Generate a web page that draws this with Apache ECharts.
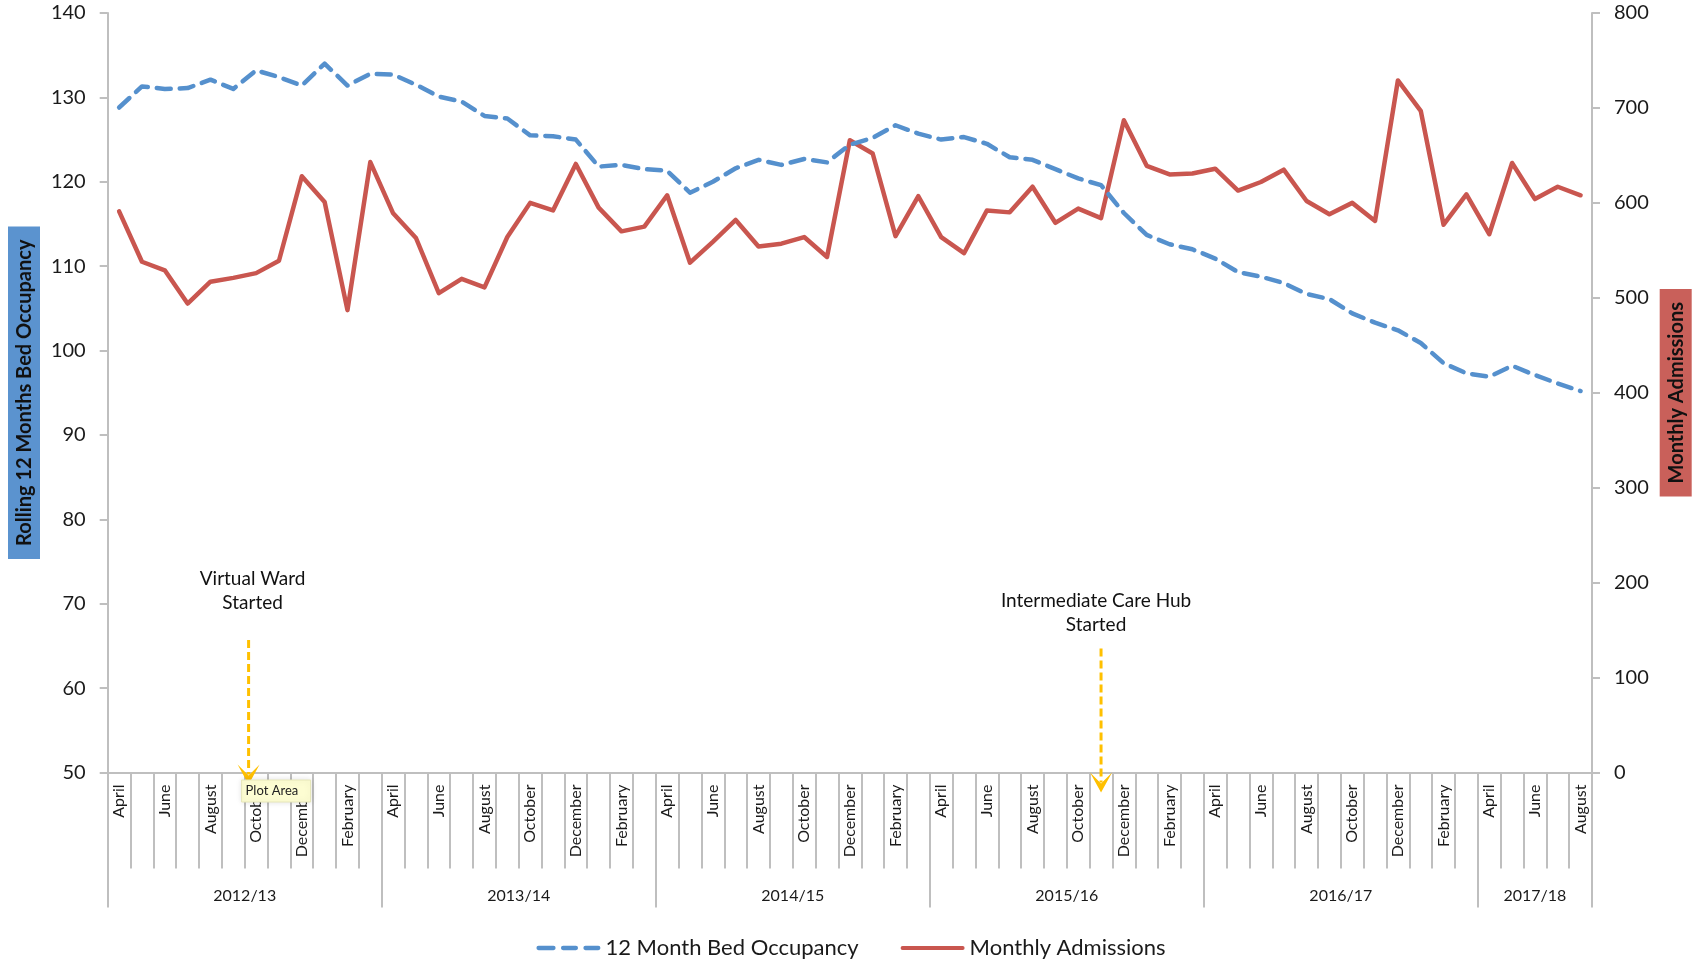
<!DOCTYPE html>
<html>
<head>
<meta charset="utf-8">
<script src="https://cdn.jsdelivr.net/npm/echarts@6/dist/echarts.min.js"></script>
<style>html,body{margin:0;padding:0;background:#fff}#c{width:1702px;height:960px}</style>
</head>
<body>
<div id="c"></div>
<script>
// ---- data ----
const monthNames = ['April','May','June','July','August','September','October','November','December','January','February','March'];
const monthCount = 65; // April 2012 .. August 2017
const categories = [];
for (let i = 0; i < monthCount; i++) categories.push(monthNames[i % 12]);

const yearLabels = ['2012/13','2013/14','2014/15','2015/16','2016/17','2017/18'];
const yearBounds = [0, 12, 24, 36, 48, 60, 65];

const bedOccupancy = [
  128.8,131.3,131.0,131.1,132.1,131.0,133.2,132.4,131.4,134.0,
  131.4,132.8,132.7,131.5,130.1,129.5,127.8,127.5,125.5,125.4,
  125.0,121.8,122.0,121.5,121.3,118.7,120.0,121.6,122.6,122.0,
  122.7,122.3,124.4,125.2,126.7,125.7,125.0,125.3,124.5,122.9,
  122.6,121.5,120.4,119.6,116.3,113.7,112.6,112.0,110.9,109.3,
  108.75,108.0,106.7,106.1,104.4,103.3,102.4,100.9,98.5,97.3,
  96.9,98.2,97.1,96.1,95.2
];
const monthlyAdmissions = [
  591,538,529,494,517,521,526,539,628,601,
  487,643,589,563,505,520,511,564,600,592,
  641,595,570,575,608,537,559,582,554,557,
  564,543,666,652,565,607,564,547,592,590,
  617,579,594,584,687,639,630,631,636,613,
  622,635,602,588,600,581,729,697,577,609,
  567,642,604,617,608
];
const leftTicks = {min: 50, max: 140, interval: 10};
const rightTicks = {min: 0, max: 800, interval: 100};

const annotations = [
  {text: 'Virtual Ward\nStarted', index: 6, shift: -0.33, arrowTop: 65.7, textTop: 74.4},
  {text: 'Intermediate Care Hub\nStarted', index: 43, shift: 0, arrowTop: 64.7, textTop: 71.8}
];

// ---- chart ----
const FONT = 'Lato';
const AXIS = '#bfbfbf';
const TXT = '#1a1a1a';
const BLUE = '#5590cd';
const RED = '#c9564f';

const yearCenters = yearLabels.map((_, i) => (yearBounds[i] + yearBounds[i + 1]) / 2);

const dashedIcon = 'path://M2,0h14a2,2 0 0 1 0,4h-14a2,2 0 0 1 0,-4z M25,0h12a2,2 0 0 1 0,4h-12a2,2 0 0 1 0,-4z M46,0h12a2,2 0 0 1 0,4h-12a2,2 0 0 1 0,-4z';
const solidIcon = 'path://M2,0h62a2,2 0 0 1 0,4h-62a2,2 0 0 1 0,-4z';

const chart = echarts.init(document.getElementById('c'));
const option = {
  animation: false,
  textStyle: {fontFamily: FONT},
  grid: {left: 105, right: 110, top: 13, bottom: 187.5},
  legend: {
    left: 'center', top: 932,
    itemWidth: 64, itemHeight: 5, itemGap: 42,
    textStyle: {fontFamily: FONT, fontSize: 22, color: TXT},
    data: [
      {name: '12 Month Bed Occupancy', icon: dashedIcon, itemStyle: {color: BLUE}},
      {name: 'Monthly Admissions', icon: solidIcon, itemStyle: {color: RED}}
    ]
  },
  xAxis: [
    {
      type: 'category', data: categories, boundaryGap: true, position: 'bottom',
      axisLine: {lineStyle: {color: AXIS, width: 2}},
      axisTick: {show: true, interval: 0, length: 96, lineStyle: {color: AXIS, width: 2}},
      axisLabel: {interval: 1, rotate: 90, margin: 12, fontSize: 16, color: TXT, fontFamily: FONT}
    },
    {
      type: 'value', min: 0, max: monthCount, position: 'bottom',
      axisLine: {show: false},
      splitLine: {show: false},
      axisTick: {show: true, customValues: yearBounds, length: 135, lineStyle: {color: AXIS, width: 2}},
      axisLabel: {
        customValues: yearCenters, margin: 115, fontSize: 16, color: TXT, fontFamily: FONT,
        formatter: v => { const k = yearCenters.indexOf(v); return k >= 0 ? yearLabels[k] : ''; }
      }
    }
  ],
  yAxis: [
    {
      type: 'value', min: leftTicks.min, max: leftTicks.max, interval: leftTicks.interval, position: 'left',
      name: 'Rolling 12 Months Bed Occupancy', nameLocation: 'middle', nameRotate: 90, nameGap: 66,
      nameTextStyle: {fontFamily: FONT, fontSize: 20, fontWeight: 'bold', color: '#111',
        backgroundColor: '#5b93cf', padding: [7, 13, 5, 13]},
      axisLine: {show: true, lineStyle: {color: AXIS, width: 2}},
      axisTick: {show: true, length: 8, lineStyle: {color: AXIS, width: 2}},
      axisLabel: {fontSize: 20, color: TXT, margin: 22, fontFamily: FONT},
      splitLine: {show: false}
    },
    {
      type: 'value', min: rightTicks.min, max: rightTicks.max, interval: rightTicks.interval, position: 'right',
      name: 'Monthly Admissions', nameLocation: 'middle', nameRotate: 90, nameGap: 65,
      nameTextStyle: {fontFamily: FONT, fontSize: 20, fontWeight: 'bold', color: '#111',
        backgroundColor: '#c9605a', padding: [7, 13, 5, 13]},
      axisLine: {show: true, lineStyle: {color: AXIS, width: 2}},
      axisTick: {show: true, length: 8, lineStyle: {color: AXIS, width: 2}},
      axisLabel: {fontSize: 20, color: TXT, margin: 22, fontFamily: FONT},
      splitLine: {show: false}
    }
  ],
  series: [
    {
      name: '12 Month Bed Occupancy', type: 'line', xAxisIndex: 0, yAxisIndex: 0,
      data: bedOccupancy, symbol: 'none', z: 3,
      lineStyle: {color: BLUE, width: 4.5, type: [14, 9], cap: 'round', join: 'round'},
      itemStyle: {color: BLUE}
    },
    {
      name: 'Monthly Admissions', type: 'line', xAxisIndex: 0, yAxisIndex: 1,
      data: monthlyAdmissions, symbol: 'none', z: 2,
      lineStyle: {color: RED, width: 4.5, cap: 'round', join: 'round'},
      itemStyle: {color: RED}
    }
  ]
};
chart.setOption(option);

// ---- annotations (positioned through the axes) ----
const px0 = chart.convertToPixel({xAxisIndex: 0}, 0);
const px1 = chart.convertToPixel({xAxisIndex: 0}, 1);
const band = px1 - px0;
const yBase = chart.convertToPixel({yAxisIndex: 0}, leftTicks.min);
const graphics = [];
annotations.forEach((a, k) => {
  const x = chart.convertToPixel({xAxisIndex: 0}, a.index) + a.shift * band;
  const yTop = chart.convertToPixel({yAxisIndex: 0}, a.arrowTop);
  const yTxt = chart.convertToPixel({yAxisIndex: 0}, a.textTop);
  const tip = yBase + (k === 0 ? 12 : 20);
  graphics.push({
    type: 'text', x: x + (k === 0 ? 4 : -5), y: yTxt, z: 10,
    style: {text: a.text, fontFamily: FONT, fontSize: 19, lineHeight: 24, fill: '#111',
      textAlign: 'center', textVerticalAlign: 'top'}
  });
  graphics.push({
    type: 'line', z: 10,
    shape: {x1: x, y1: yTop, x2: x, y2: tip - 10},
    style: {stroke: '#ffc000', lineWidth: 3, lineDash: [8, 4]}
  });
  graphics.push({
    type: 'polygon', z: 10,
    shape: {points: [[x - 11, tip - 20], [x, tip - 9], [x + 11, tip - 20], [x, tip]]},
    style: {fill: '#ffc000'}
  });
  if (k === 0) {
    graphics.push({
      type: 'group', z: 20,
      children: [
        {type: 'rect', z: 20, shape: {x: x - 7, y: yBase + 7.5, width: 69, height: 22},
          style: {fill: '#fdfdd2', stroke: '#e6e6b8', lineWidth: 1, shadowBlur: 6, shadowColor: 'rgba(0,0,0,0.12)'}},
        {type: 'text', z: 21, x: x - 3, y: yBase + 18.5,
          style: {text: 'Plot Area', fontFamily: FONT, fontSize: 13, fill: '#222', textVerticalAlign: 'middle'}}
      ]
    });
  }
});
chart.setOption({graphic: graphics});
</script>
</body>
</html>
